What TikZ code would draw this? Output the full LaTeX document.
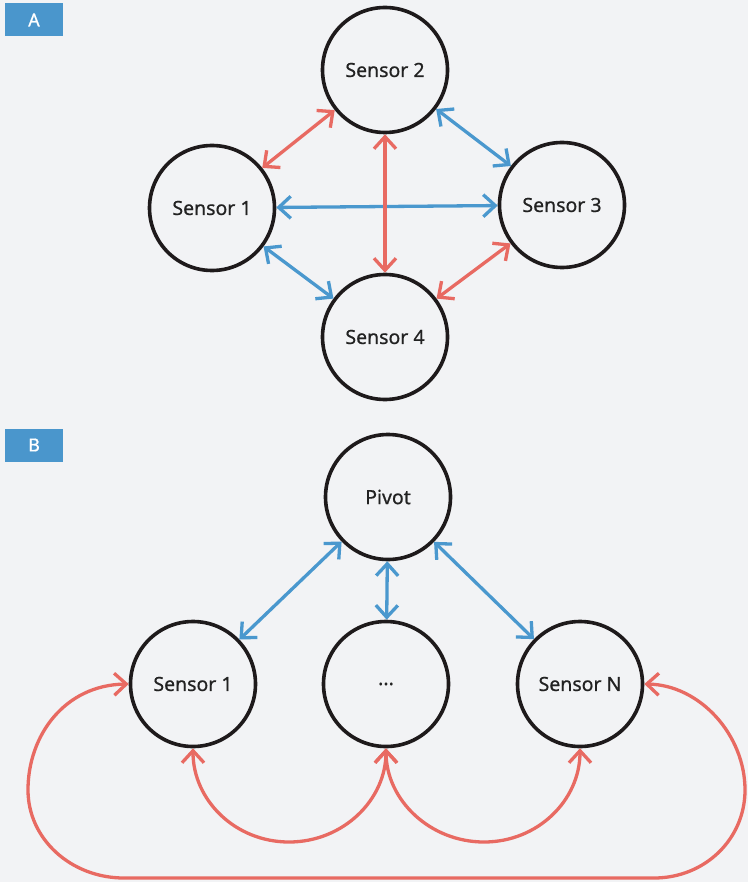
\documentclass[tikz,border=0pt]{standalone}
\usepackage{fontspec}
\setmainfont{Noto Sans}
\newfontfamily\labelfont{Noto Sans}[FakeBold=0.7]
\usetikzlibrary{arrows.meta}
\definecolor{bg}{HTML}{F2F3F5}
\definecolor{ared}{HTML}{E86A62}
\definecolor{ablue}{HTML}{4A98CE}
\definecolor{ring}{HTML}{1E1A1B}
\definecolor{tagblue}{HTML}{4A96CC}
\definecolor{ink}{HTML}{222222}

\begin{document}
\begin{tikzpicture}[x=1pt,y=1pt,
  sensor/.style={circle, draw=ring, line width=3.6pt, minimum size=125pt,
    inner sep=0pt, text=ink, font=\labelfont\fontsize{19.5}{22}\selectfont},
  tag/.style={fill=tagblue, text=white, minimum width=58pt, minimum height=33pt,
    inner sep=0pt, font=\labelfont\fontsize{18}{20}\selectfont},
  barb/.tip={Straight Barb[length=12pt,width=22pt]},
  link/.style={line width=3.3pt, barb-barb},
  redlink/.style={link, draw=ared},
  bluelink/.style={link, draw=ablue}]

% canvas
\fill[bg] (0,0) rectangle (748,-882);
\useasboundingbox (0,0) rectangle (748,-882);

% panel tags
\node[tag] (tagA) at (34,-20) {A};
\node[tag] (tagB) at (34,-445) {B};

% panel A: full mesh of four sensors
\node[sensor] (a2) at (385,-70)  {Sensor 2};
\node[sensor] (a1) at (212,-208) {Sensor 1};
\node[sensor] (a3) at (562,-205) {Sensor 3};
\node[sensor] (a4) at (385,-337) {Sensor 4};

\draw[redlink]  (a1) -- (a2);
\draw[bluelink] (a2) -- (a3);
\draw[bluelink] (a1) -- (a3);
\draw[redlink]  (a2) -- (a4);
\draw[bluelink] (a1) -- (a4);
\draw[redlink]  (a3) -- (a4);

% panel B: pivot with sensors in a ring
\node[sensor] (pv) at (388,-497) {Pivot};
\node[sensor] (b1) at (193,-684) {Sensor 1};
\node[sensor] (bd) at (386,-684) {...};
\node[sensor] (bn) at (580,-684) {Sensor N};

\draw[bluelink] (pv) -- (b1);
\draw[bluelink] (pv) -- (bd);
\draw[bluelink] (pv) -- (bn);

\draw[redlink] (b1.south) .. controls (193,-800) and (235,-842) .. (289,-842)
  .. controls (343,-842) and (386,-800) .. (bd.south);
\draw[redlink] (bd.south) .. controls (386,-800) and (430,-842) .. (484,-842)
  .. controls (538,-842) and (580,-800) .. (bn.south);
\draw[redlink] (b1.west) .. controls (65,-685) and (28,-735) .. (28,-790)
  .. controls (28,-839) and (71,-878) .. (124,-878) -- (654,-878)
  .. controls (705,-878) and (745,-839) .. (745,-790)
  .. controls (745,-735) and (700,-685) .. (bn.east);
\end{tikzpicture}
\end{document}
